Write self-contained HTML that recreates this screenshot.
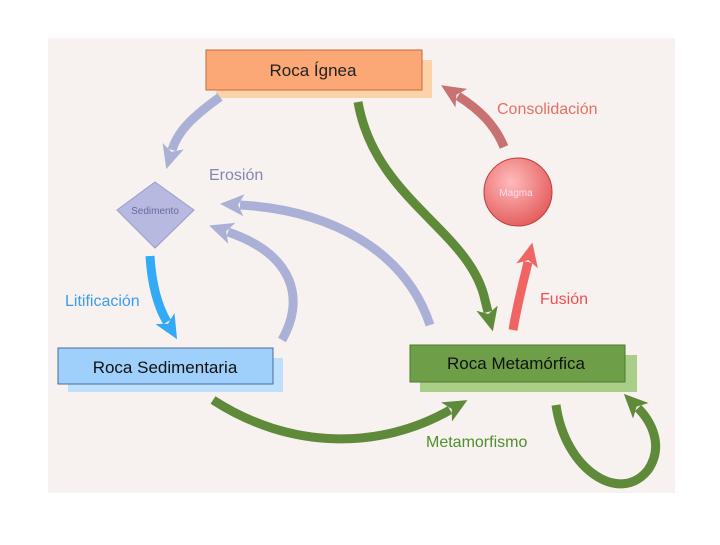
<!DOCTYPE html>
<html><head><meta charset="utf-8"><style>
body{margin:0;background:#fff;width:720px;height:540px;overflow:hidden}
svg text{font-family:"Liberation Sans",sans-serif}
</style></head><body>
<svg width="720" height="540" viewBox="0 0 720 540" xmlns="http://www.w3.org/2000/svg">
<defs>
<marker id="g" markerUnits="userSpaceOnUse" markerWidth="26" markerHeight="26" refX="4" refY="13" orient="auto"><path d="M0,2 L24,13 L0,24 L6,13Z" fill="#5e8a3a"/></marker>
<marker id="p" markerUnits="userSpaceOnUse" markerWidth="26" markerHeight="26" refX="4" refY="13" orient="auto"><path d="M0,2 L24,13 L0,24 L6,13Z" fill="#aab0d6"/></marker>
<marker id="b" markerUnits="userSpaceOnUse" markerWidth="26" markerHeight="26" refX="4" refY="13" orient="auto"><path d="M0,2 L24,13 L0,24 L6,13Z" fill="#33aaf5"/></marker>
<marker id="r" markerUnits="userSpaceOnUse" markerWidth="26" markerHeight="26" refX="4" refY="13" orient="auto"><path d="M0,2 L24,13 L0,24 L6,13Z" fill="#f06464"/></marker>
<marker id="c" markerUnits="userSpaceOnUse" markerWidth="26" markerHeight="26" refX="4" refY="13" orient="auto"><path d="M0,2 L24,13 L0,24 L6,13Z" fill="#c87272"/></marker>
<radialGradient id="mg" cx="0.4" cy="0.35" r="0.7"><stop offset="0" stop-color="#fbb"/><stop offset="1" stop-color="#e35a5a"/></radialGradient>
</defs>
<rect x="48" y="38" width="627" height="455" fill="#f7f2ef"/>
<!-- Ignea -->
<rect x="216" y="60" width="216" height="38" fill="#fcd2a8"/>
<rect x="206" y="50" width="216" height="40" fill="#fba876" stroke="#c36a3a"/>
<text x="313" y="76" font-size="17" text-anchor="middle" fill="#222">Roca Ígnea</text>
<!-- Sedimentaria -->
<rect x="68" y="358" width="215" height="34" fill="#bfe0fc"/>
<rect x="58" y="348" width="215" height="36" fill="#9fd0fb" stroke="#4a6aa0"/>
<text x="165" y="373" font-size="17" text-anchor="middle" fill="#111">Roca Sedimentaria</text>
<!-- Metamorfica -->
<rect x="420" y="355" width="217" height="37" fill="#a9ce88"/>
<rect x="410" y="345" width="215" height="37" fill="#6f9e48" stroke="#4e7a2e"/>
<text x="516" y="369" font-size="17" text-anchor="middle" fill="#111">Roca Metamórfica</text>
<!-- Magma -->
<circle cx="518" cy="192" r="34" fill="url(#mg)" stroke="#c03a3a"/>
<text x="516" y="196" font-size="10" text-anchor="middle" fill="#fde">Magma</text>
<!-- Sedimento -->
<path d="M155,182 L194,210 L155,248 L117,210Z" fill="#b8b9e0" stroke="#9a9ccc"/>
<text x="155" y="214" font-size="10" text-anchor="middle" fill="#6a6a9c">Sedimento</text>
<!-- arrows -->
<g fill="none" stroke-width="9">
<path d="M358,102 C375,200 470,230 485,300 L488,312" stroke="#5e8a3a" marker-end="url(#g)"/>
<path d="M504,147 C495,125 480,110 458,96" stroke="#c87272" marker-end="url(#c)"/>
<path d="M513,330 C518,300 524,280 528,262" stroke="#f06464" marker-end="url(#r)"/>
<path d="M220,97 C195,115 178,130 172,150" stroke="#aab0d6" marker-end="url(#p)"/>
<path d="M430,325 C405,250 330,210 240,205" stroke="#aab0d6" marker-end="url(#p)"/>
<path d="M282,340 C305,300 295,255 228,232" stroke="#aab0d6" marker-end="url(#p)"/>
<path d="M150,256 C152,290 160,310 167,322" stroke="#33aaf5" marker-end="url(#b)"/>
<path d="M213,400 C290,450 380,450 450,410" stroke="#5e8a3a" marker-end="url(#g)"/>
<path d="M556,405 C565,470 620,505 648,470 C665,445 650,420 638,408" stroke="#5e8a3a" marker-end="url(#g)"/>
</g>
<text x="209" y="180" font-size="16" fill="#8585b5">Erosión</text>
<text x="497" y="114" font-size="16" fill="#e57060">Consolidación</text>
<text x="540" y="304" font-size="16" fill="#ee5050">Fusión</text>
<text x="65" y="306" font-size="16" fill="#3a9cee">Litificación</text>
<text x="426" y="447" font-size="16" fill="#4e8e2e">Metamorfismo</text>
</svg>
</body></html>
